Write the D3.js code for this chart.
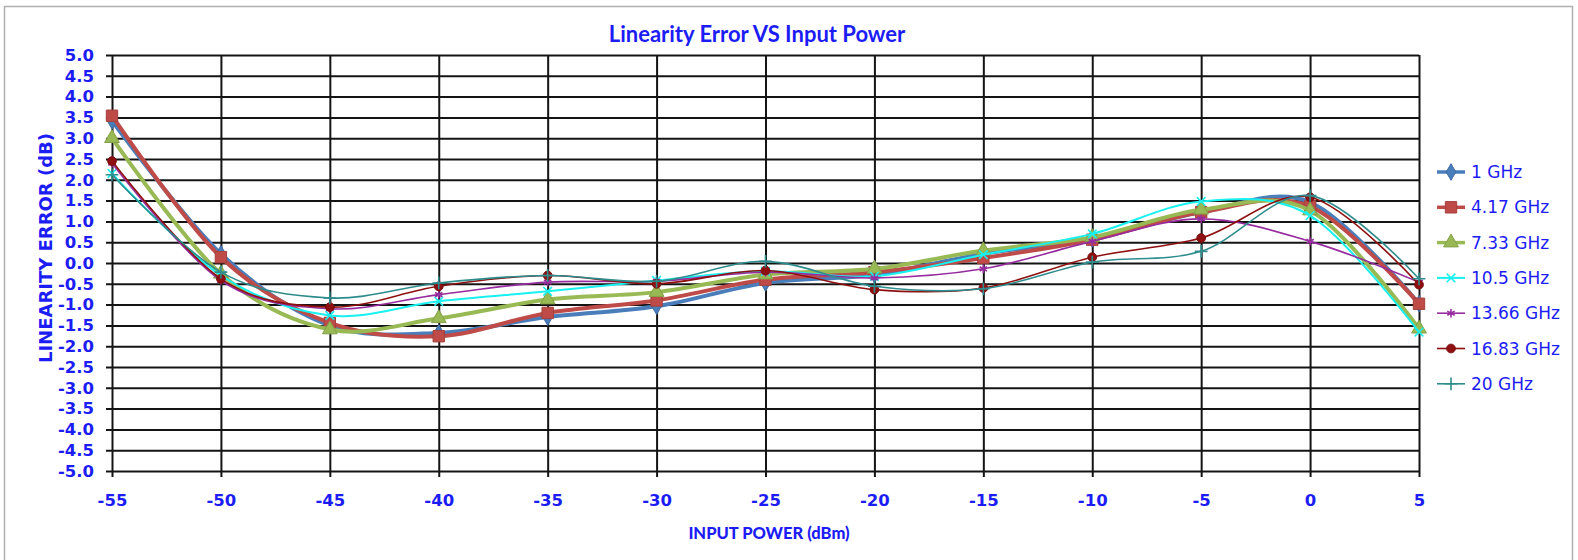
<!DOCTYPE html>
<html>
<head>
<meta charset="utf-8">
<script src="https://cdn.jsdelivr.net/npm/d3@7"></script>
<style>
  body { margin: 0; background: #fff; }
  svg { display: block; }
</style>
</head>
<body>
<svg id="chart" width="1578" height="560"></svg>
<script>
// input power (dBm)
const inputPower = [-55, -50, -45, -40, -35, -30, -25, -20, -15, -10, -5, 0, 5];
const yTickValues = [-5, -4.5, -4, -3.5, -3, -2.5, -2, -1.5, -1, -0.5, 0, 0.5, 1, 1.5, 2, 2.5, 3, 3.5, 4, 4.5, 5];

// linearity error (dB), one array per frequency
const err1GHz   = [3.42, 0.22, -1.50, -1.68, -1.30, -1.04, -0.48, -0.28, 0.22, 0.58, 1.22, 1.46, -0.98];
const err4GHz   = [3.54, 0.14, -1.44, -1.76, -1.20, -0.90, -0.40, -0.22, 0.12, 0.56, 1.22, 1.36, -0.98];
const err7GHz   = [3.00, -0.26, -1.60, -1.33, -0.88, -0.70, -0.28, -0.14, 0.30, 0.62, 1.28, 1.26, -1.58];
const err10GHz  = [2.15, -0.30, -1.26, -0.92, -0.68, -0.42, -0.20, -0.32, 0.20, 0.70, 1.48, 1.14, -1.66];
const err13GHz  = [2.40, -0.42, -1.10, -0.76, -0.46, -0.44, -0.22, -0.36, -0.14, 0.52, 1.06, 0.52, -0.46];
const err16GHz  = [2.45, -0.38, -1.06, -0.56, -0.30, -0.50, -0.18, -0.64, -0.60, 0.14, 0.60, 1.58, -0.52];
const err20GHz  = [2.12, -0.22, -0.84, -0.48, -0.30, -0.44, 0.04, -0.56, -0.62, 0.02, 0.28, 1.62, -0.38];

const seriesNames = ["1 GHz", "4.17 GHz", "7.33 GHz", "10.5 GHz", "13.66 GHz", "16.83 GHz", "20 GHz"];
const seriesValues = [err1GHz, err4GHz, err7GHz, err10GHz, err13GHz, err16GHz, err20GHz];

// styling per series
const styles = [
  {color: "#4a7ebb", width: 4,   sym: d3.symbolDiamond,  size: 80,  fill: true},
  {color: "#be4b48", width: 4,   sym: d3.symbolSquare,   size: 130, fill: true},
  {color: "#98b954", width: 4,   sym: d3.symbolTriangle, size: 95,  fill: true},
  {color: "#19f0f0", width: 2,   sym: d3.symbolX,        size: 50,  fill: false},
  {color: "#962c9e", width: 1.6, sym: d3.symbolAsterisk, size: 50,  fill: false},
  {color: "#8e1010", width: 1.6, sym: d3.symbolCircle,   size: 60,  fill: true},
  {color: "#2e8c8c", width: 1.6, sym: d3.symbolPlus,     size: 55,  fill: false}
];

const blue = "#1c1cf5";
const svg = d3.select("#chart");

// outer chart frame
svg.append("rect")
  .attr("x", 4.5).attr("y", 6.5)
  .attr("width", 1568).attr("height", 570)
  .attr("fill", "#fff").attr("stroke", "#b0b0b0").attr("stroke-width", 1.5);

const plotL = 112, plotR = 1419, plotT = 55, plotB = 471;
const W = plotR - plotL, H = plotB - plotT;

const x = d3.scaleLinear().domain([-55, 5]).range([plotL, plotR]);
const y = d3.scaleLinear().domain([-5, 5]).range([plotB, plotT]);

// plain hyphen minus like the original
const fmtY = d => d.toFixed(1);
const fmtX = d => String(d);

// horizontal grid + left ticks
const yAxis = svg.append("g")
  .attr("transform", `translate(${plotL - 6},0)`)
  .call(d3.axisLeft(y).tickValues(yTickValues).tickFormat(fmtY)
    .tickSizeInner(-(W + 6)).tickSizeOuter(0).tickPadding(12));
yAxis.select(".domain").remove();
yAxis.selectAll("line").attr("stroke", "#141414").attr("stroke-width", 2);
yAxis.selectAll("text")
  .attr("fill", blue)
  .style("font-family", "DejaVu Sans").style("font-weight", "bold").style("font-size", "16.5px");

// vertical grid + bottom ticks
const xAxis = svg.append("g")
  .attr("transform", `translate(0,${plotB + 6})`)
  .call(d3.axisBottom(x).tickValues(inputPower).tickFormat(fmtX)
    .tickSizeInner(-(H + 6)).tickSizeOuter(0).tickPadding(17));
xAxis.select(".domain").remove();
xAxis.selectAll("line").attr("stroke", "#141414").attr("stroke-width", 2);
xAxis.selectAll("text")
  .attr("fill", blue)
  .style("font-family", "DejaVu Sans").style("font-weight", "bold").style("font-size", "16.5px");

// smoothed lines, like excel
const line = d3.line()
  .x((d, i) => x(inputPower[i]))
  .y(d => y(d))
  .curve(d3.curveCardinal.tension(0));

seriesValues.forEach((vals, k) => {
  const st = styles[k];
  svg.append("path")
    .datum(vals)
    .attr("d", line)
    .attr("fill", "none")
    .attr("stroke", st.color)
    .attr("stroke-width", st.width);
  svg.append("g").selectAll("path")
    .data(vals)
    .join("path")
    .attr("transform", (d, i) => `translate(${x(inputPower[i])},${y(d)})`)
    .attr("d", d3.symbol().type(st.sym).size(st.size))
    .attr("fill", st.fill ? st.color : "none")
    .attr("stroke", st.fill ? d3.color(st.color).darker(0.4) : st.color)
    .attr("stroke-width", st.fill ? 1 : 1.6);
});

// title
svg.append("text")
  .attr("x", 757).attr("y", 42)
  .attr("text-anchor", "middle")
  .attr("fill", blue)
  .style("font-family", "Lato").style("font-weight", "bold").style("font-size", "22px")
  .text("Linearity Error VS Input Power");

// axis titles
svg.append("text")
  .attr("transform", "translate(52,248) rotate(-90)")
  .attr("text-anchor", "middle")
  .attr("fill", blue)
  .style("font-family", "DejaVu Sans").style("font-weight", "bold").style("font-size", "18px")
  .text("LINEARITY ERROR (dB)");

svg.append("text")
  .attr("x", 769).attr("y", 539)
  .attr("text-anchor", "middle")
  .attr("fill", blue)
  .style("font-family", "Lato").style("font-weight", "900").style("font-size", "16.5px")
  .text("INPUT POWER (dBm)");

// legend
const legend = svg.append("g").attr("transform", "translate(1437,172)");
seriesNames.forEach((name, k) => {
  const st = styles[k];
  const g = legend.append("g").attr("transform", `translate(0,${k * 35.3})`);
  g.append("line")
    .attr("x1", 0).attr("x2", 28).attr("y1", 0).attr("y2", 0)
    .attr("stroke", st.color).attr("stroke-width", Math.min(st.width, 3.5));
  g.append("path")
    .attr("transform", "translate(14,0)")
    .attr("d", d3.symbol().type(st.sym).size(st.size))
    .attr("fill", st.fill ? st.color : "none")
    .attr("stroke", st.fill ? d3.color(st.color).darker(0.4) : st.color)
    .attr("stroke-width", st.fill ? 1 : 1.6);
  g.append("text")
    .attr("x", 34).attr("y", 0).attr("dy", "0.36em")
    .attr("fill", blue)
    .style("font-family", "DejaVu Sans").style("font-size", "17px")
    .text(name);
});
</script>
</body>
</html>
